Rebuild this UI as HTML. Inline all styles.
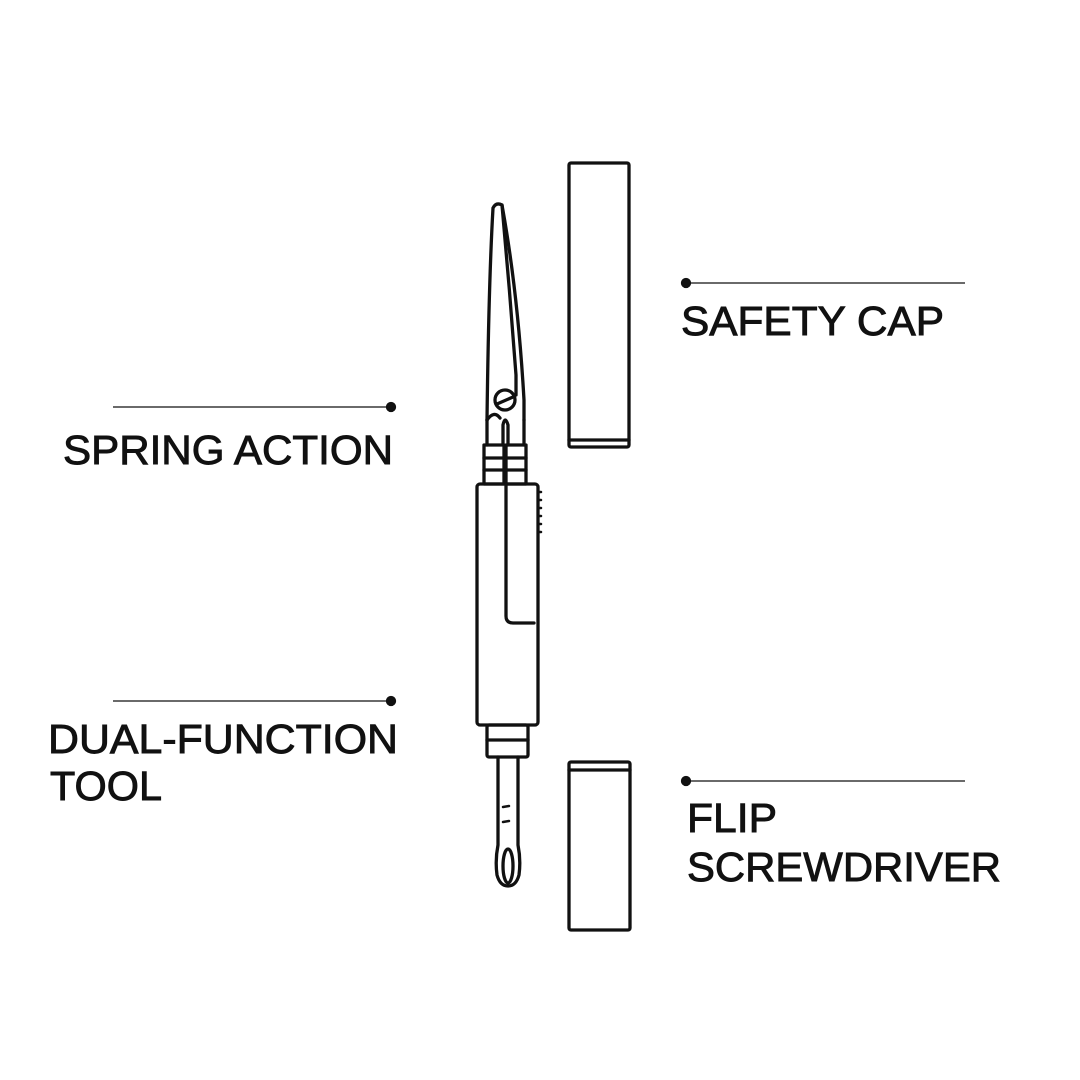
<!DOCTYPE html>
<html><head><meta charset="utf-8"><style>html,body{margin:0;padding:0;background:#fff}svg{display:block}</style></head>
<body>
<svg width="1080" height="1080" viewBox="0 0 1080 1080" xmlns="http://www.w3.org/2000/svg">
<rect width="1080" height="1080" fill="#fff"/>
<g stroke="#111" stroke-width="1.3" fill="#111">
<line x1="685" y1="283" x2="965" y2="283"/><circle cx="686" cy="283" r="4.5"/>
<line x1="113" y1="407" x2="391" y2="407"/><circle cx="391" cy="407" r="4.5"/>
<line x1="113" y1="701" x2="391" y2="701"/><circle cx="391" cy="701" r="4.5"/>
<line x1="685" y1="781" x2="965" y2="781"/><circle cx="686" cy="781" r="4.5"/>
</g>
<g font-family="Liberation Sans, sans-serif" font-size="41" fill="#111" stroke="#111" stroke-width="0.9">
<text x="681" y="335" textLength="263" lengthAdjust="spacingAndGlyphs">SAFETY CAP</text>
<text x="63" y="464" textLength="330" lengthAdjust="spacingAndGlyphs">SPRING ACTION</text>
<text x="48" y="753" textLength="350" lengthAdjust="spacingAndGlyphs">DUAL-FUNCTION</text>
<text x="50" y="800" textLength="112" lengthAdjust="spacingAndGlyphs">TOOL</text>
<text x="687" y="832" textLength="90" lengthAdjust="spacingAndGlyphs">FLIP</text>
<text x="687" y="881" textLength="314" lengthAdjust="spacingAndGlyphs">SCREWDRIVER</text>
</g>
<g fill="none" stroke="#111" stroke-width="3.3" stroke-linejoin="round" stroke-linecap="round">
<rect x="569" y="163" width="60" height="284" rx="2"/>
<line x1="569" y1="440" x2="629" y2="440"/>
<rect x="569" y="762" width="61" height="168" rx="2"/>
<line x1="569" y1="770" x2="630" y2="770"/>
<path d="M487 420 C488 340 490 260 493 208 Q496 202 502 205 C512 260 520 330 524 400 L524 420"/>
<path d="M502 205 C507 260 512 320 516 375 L516 395"/>
<circle cx="505" cy="400" r="10"/>
<line x1="497" y1="404" x2="513" y2="397"/>
<path d="M487 420 L487 445 M503 445 L503 425 Q505 415 508 425 L508 445 M524 420 L524 445"/>
<path d="M487 420 Q494 410 500 418"/>
<rect x="484" y="445" width="20" height="39"/>
<rect x="506" y="445" width="20" height="39"/>
<line x1="484" y1="458" x2="504" y2="458"/><line x1="506" y1="458" x2="526" y2="458"/>
<line x1="484" y1="470" x2="504" y2="470"/><line x1="506" y1="470" x2="526" y2="470"/>
<rect x="477" y="484" width="61" height="241" rx="3"/>
<path d="M506 484 L506 616 Q506 623 513 623 L534 623"/>
<path d="M538 492 h3 M538 500 h3 M538 508 h3 M538 516 h3 M538 524 h3 M538 532 h3" stroke-width="2.5"/>
<rect x="487" y="725" width="41" height="32" rx="2"/>
<line x1="487" y1="740" x2="528" y2="740"/>
<path d="M498 757 L498 845 Q495 860 497 875 Q500 886 508 886 Q516 886 519 875 Q521 860 518 845 L518 757"/>
<ellipse cx="508" cy="866" rx="5" ry="17"/>
<line x1="503" y1="807" x2="509" y2="806" stroke-width="2.5"/>
<line x1="503" y1="822" x2="509" y2="821" stroke-width="2.5"/>
</g>
</svg>
</body></html>
